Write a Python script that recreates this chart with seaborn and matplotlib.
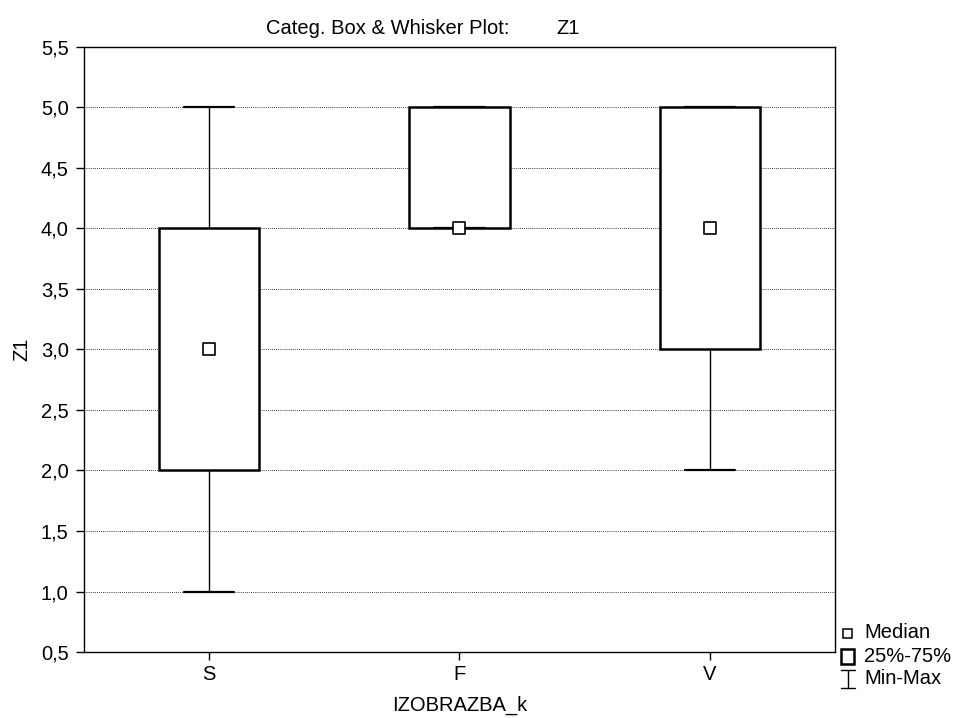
import matplotlib
matplotlib.use("Agg")
import matplotlib.pyplot as plt
from matplotlib.ticker import FuncFormatter, MultipleLocator
from matplotlib.lines import Line2D
from matplotlib.patches import Rectangle
import seaborn as sns
import pandas as pd

categories = ["S", "F", "V"]
mins = [1.0, 4.0, 2.0]
q1s = [2.0, 4.0, 3.0]
medians = [3.0, 4.0, 4.0]
q3s = [4.0, 5.0, 5.0]
maxs = [5.0, 5.0, 5.0]
legend_labels = ["Median", "25%-75%", "Min-Max"]

# small samples reproducing exactly the five-number summaries
rows = []
for c, mn, a, m, b, mx in zip(categories, mins, q1s, medians, q3s, maxs):
    for v in [mn, a, a, m, b, b, mx]:
        rows.append({"IZOBRAZBA_k": c, "Z1": v})
df = pd.DataFrame(rows)
med_df = pd.DataFrame({"IZOBRAZBA_k": categories, "Z1": medians})

sns.set_style("white")
plt.rcParams["font.family"] = ["Liberation Sans", "DejaVu Sans"]
plt.rcParams["text.color"] = "black"
plt.rcParams["axes.labelcolor"] = "black"
FS = 14.5
W, H = 954, 718

fig = plt.figure(figsize=(9.54, 7.18), dpi=100)
ax = fig.add_axes([84 / W, 1 - 652 / H, (835 - 84) / W, (652 - 47) / H])

sns.boxplot(data=df, x="IZOBRAZBA_k", y="Z1", order=categories, whis=(0, 100),
            width=0.4, color="white", linecolor="black", linewidth=1.6,
            showfliers=False, ax=ax,
            boxprops=dict(facecolor="white", edgecolor="black", linewidth=1.8),
            whiskerprops=dict(color="black", linewidth=1.0),
            capprops=dict(color="black", linewidth=1.6),
            medianprops=dict(visible=False), capwidths=0.2)

sns.scatterplot(data=med_df, x="IZOBRAZBA_k", y="Z1", marker="s", s=70,
                facecolor="white", edgecolor="black", linewidth=1.2, ax=ax, zorder=5)

ax.set_ylim(0.5, 5.5)
ax.set_xlim(-0.5, 2.5)
ax.yaxis.set_major_locator(MultipleLocator(0.5))
ax.yaxis.set_major_formatter(FuncFormatter(lambda v, p: f"{v:.1f}".replace(".", ",")))
ax.grid(axis="y", color="black", linestyle=(0, (1, 1.5)), linewidth=0.6)
ax.set_axisbelow(True)
for s in ax.spines.values():
    s.set_color("black")
    s.set_linewidth(1.0)
ax.tick_params(axis="both", direction="out", length=6, width=1, colors="black",
               labelcolor="black", labelsize=FS, left=True, bottom=True)
ax.tick_params(axis="y", pad=5)
ax.tick_params(axis="x", pad=3)
ax.set_xlabel("IZOBRAZBA_k", fontsize=FS, labelpad=9, color="black")
ax.set_ylabel("Z1", fontsize=FS, labelpad=7, color="black")

fig.text(388 / W, 1 - 28 / H, "Categ. Box & Whisker Plot:", ha="center", va="center",
         fontsize=FS, color="black")
fig.text(568 / W, 1 - 28 / H, "Z1", ha="center", va="center", fontsize=FS, color="black")

# legend drawn in figure pixel coordinates
def px(x, y):
    return x / W, 1 - y / H

tx = 864 / W
rows_y = [633, 656, 679]
fig.add_artist(Rectangle(px(843.5, 638), 9 / W, 9 / H, transform=fig.transFigure,
                         facecolor="white", edgecolor="black", lw=1.1))
fig.add_artist(Rectangle(px(841.5, 664), 12.5 / W, 15.5 / H, transform=fig.transFigure,
                         facecolor="white", edgecolor="black", lw=1.8))
xc = 848
fig.add_artist(Line2D([xc / W, xc / W], [1 - 669.5 / H, 1 - 687.5 / H], color="black", lw=1.0,
                      transform=fig.transFigure))
for yy in (669.5, 687.5):
    fig.add_artist(Line2D([841.5 / W, 855 / W], [1 - yy / H, 1 - yy / H], color="black", lw=1.0,
                          transform=fig.transFigure))
for lab, yy in zip(legend_labels, rows_y):
    fig.text(tx, 1 - yy / H, lab, ha="left", va="center", fontsize=FS, color="black")

fig.savefig("out.png", dpi=100)
